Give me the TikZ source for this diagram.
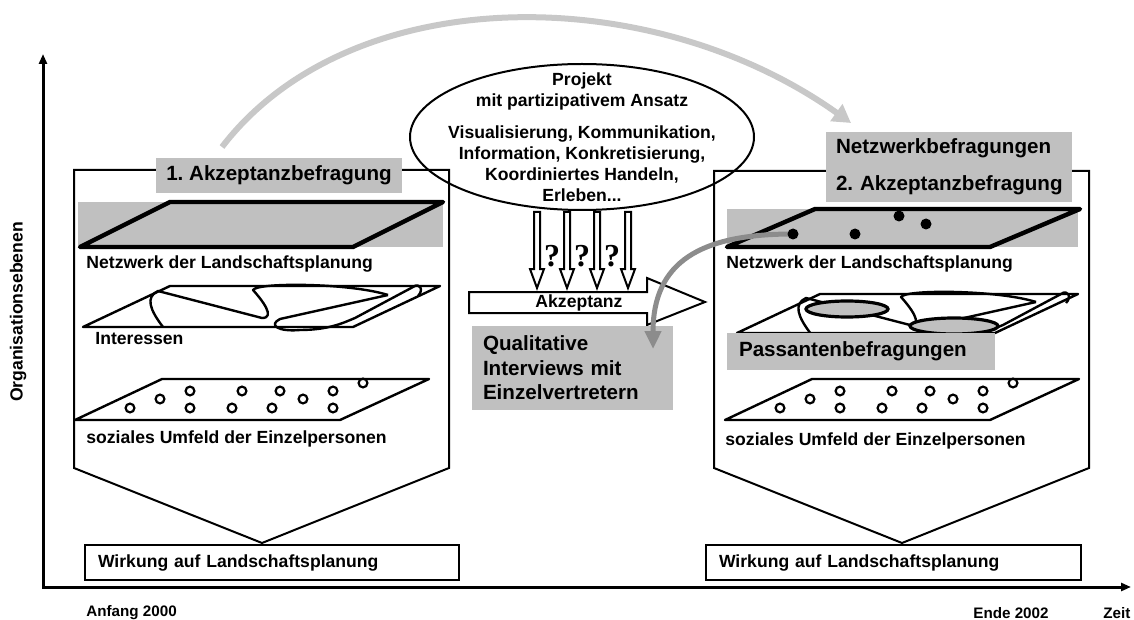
\documentclass[tikz,border=0pt]{standalone}
\usepackage{fontspec}
\setmainfont{Liberation Sans}
\newfontfamily\questionfont{Liberation Serif}
\usetikzlibrary{arrows.meta}
\frenchspacing

\definecolor{boxgray}{RGB}{192,192,192}
\definecolor{arcgray}{RGB}{200,200,200}
\definecolor{linkgray}{RGB}{140,140,140}

\begin{document}
\begin{tikzpicture}[ % one unit = one pixel of the sketch, y runs downwards
x=0.5pt, y=-0.5pt,
small_text/.style={font=\fontsize{8.8}{10.5}\selectfont\bfseries, inner sep=0pt},
big_text/.style={font=\fontsize{10.3}{12.2}\selectfont\bfseries},
axis_text/.style={font=\fontsize{7.6}{9}\selectfont\bfseries, inner sep=0pt},
question/.style={font=\fontsize{16}{16}\selectfont\questionfont\bfseries, inner sep=0pt},
panel/.style={draw=black, line width=1pt},
plane/.style={draw=black, line width=1.2pt, line join=round},
top_plane/.style={draw=black, line width=2.2pt, line join=round},
gray_band/.style={fill=boxgray, draw=none},
gray_box/.style={rectangle, fill=boxgray, draw=none, big_text, align=left},
effect_box/.style={rectangle, draw=black, line width=1pt, small_text, anchor=west, inner xsep=6.5pt, text width=174pt, minimum height=17.5pt, align=left},
person/.style={draw=black, line width=1.1pt},
net_dot/.style={circle, fill=black, inner sep=0pt, minimum size=5.5pt},
hot_spot/.style={draw=black, fill=boxgray, line width=1.6pt},
hollow_arrow/.style={draw=black, fill=white, line width=1pt, line join=miter},
axis_arrow/.style={{Triangle[length=5pt,width=4pt]}-{Triangle[length=5pt,width=4pt]}, line width=1.5pt},
survey_arc/.style={-{Triangle[length=9pt,width=10pt]}, draw=arcgray, line width=3pt},
link_arrow/.style={-{Triangle[length=9pt,width=8pt]}, draw=linkgray, line width=2.5pt}
]
\useasboundingbox (0,0) rectangle (1134,620);

% axes
\coordinate (y_top) at (43,54);
\coordinate (origin) at (43,587);
\coordinate (x_end) at (1131,587);
\draw[axis_arrow] (y_top) -- (origin) -- (x_end);
\node[small_text, rotate=90] (y_label) at (18,312) {Organisationsebenen};
\node[axis_text, anchor=west] (start_label) at (86,613) {Anfang 2000};
\node[axis_text, anchor=west] (end_label) at (973,613) {Ende 2002};
\node[axis_text, anchor=west] (time_label) at (1103,613) {Zeit};

% the two panels
\draw[panel] (74,170) -- (449,170) -- (449,468) -- (262,543) -- (74,468) -- cycle;
\draw[panel] (714,171) -- (1089,171) -- (1089,468) -- (902,543) -- (714,468) -- cycle;

% left panel: network layer
\fill[gray_band] (78,202) rectangle (443,247);
\draw[top_plane] (80,247) -- (170,202) -- (443,202) -- (353,247) -- cycle;
\node[small_text, anchor=west] (network_left) at (86,264) {Netzwerk der Landschaftsplanung};

% left panel: interests layer
\draw[plane] (83,327) -- (170,286) -- (440,286) -- (353,327) -- cycle;
\begin{scope}[plane]
\draw (163,327) .. controls (150,310) and (145,297) .. (158,291) -- (262,318) .. controls (276,318) and (262,300) .. (253,290) .. controls (258,282) and (350,283) .. (388,295);
\draw (388,295) -- (280,319) .. controls (268,325) and (278,332) .. (300,330) .. controls (330,330) and (345,322) .. (355,318) -- (413,287) .. controls (420,282) and (424,290) .. (418,296);
\end{scope}
\node[small_text, anchor=west] (interests_left) at (95,339) {Interessen};

% left panel: social layer
\draw[plane] (75,420) -- (162,379) -- (429,379) -- (340,420) -- cycle;
\foreach \px/\py in {130/408,160/399,190/391,190/408,242/391,232/408,280/391,272/408,303/399,333/391,333/408,363/383}
  \draw[person] (\px,\py) circle [radius=2.2pt];
\node[small_text, anchor=west] (social_left) at (86,439) {soziales Umfeld der Einzelpersonen};

% right panel: network layer
\fill[gray_band] (727,209) rectangle (1078,247);
\draw[top_plane] (727,247) -- (815,209) -- (1080,209) -- (990,247) -- cycle;
\node[small_text, anchor=west] (network_right) at (726,264) {Netzwerk der Landschaftsplanung};

% right panel: interests layer
\draw[plane] (737,333) -- (820,294) -- (1078,294) -- (995,333) -- cycle;
\begin{scope}[plane, shift={(648,7)}]
\draw (163,327) .. controls (150,310) and (145,297) .. (158,291) -- (262,318) .. controls (276,318) and (262,300) .. (253,290) .. controls (258,282) and (350,283) .. (388,295);
\draw (388,295) -- (280,319) .. controls (268,325) and (278,332) .. (300,330) .. controls (330,330) and (345,322) .. (355,318) -- (413,287) .. controls (420,282) and (424,290) .. (418,296);
\end{scope}
\draw[hot_spot] (847,309) ellipse [x radius=20.5pt, y radius=4pt];
\draw[hot_spot] (954,326) ellipse [x radius=22pt, y radius=4pt];

% right panel: social layer
\draw[plane] (725,420) -- (812,379) -- (1079,379) -- (990,420) -- cycle;
\foreach \px/\py in {130/408,160/399,190/391,190/408,242/391,232/408,280/391,272/408,303/399,333/391,333/408,363/383}
  \draw[person] (\px+650,\py) circle [radius=2.2pt];
\node[small_text, anchor=west] (social_right) at (725,441) {soziales Umfeld der Einzelpersonen};

% surveys
\node[gray_box, minimum width=123pt, minimum height=17.5pt] (first_survey) at (279,175.5) {1. Akzeptanzbefragung};
\node[gray_box, inner xsep=5pt, text width=113pt, minimum height=35pt] (network_survey) at (949,167) {Netzwerkbefragungen\\[6.3pt]\mbox{2. Akzeptanzbefragung}};
\node[gray_box, inner xsep=6pt, text width=122pt, minimum height=18.5pt] (passer_survey) at (861,351.5) {Passantenbefragungen};

% effects
\node[effect_box] (effect_left) at (84,562.5) {Wirkung auf Landschaftsplanung};
\node[effect_box, text width=174.5pt] (effect_right) at (705,562.5) {Wirkung auf Landschaftsplanung};

% project in the middle
\node[small_text, align=center] (project) at (582,137.5) {Projekt\\mit partizipativem Ansatz\\[5.5pt]Visualisierung, Kommunikation,\\Information, Konkretisierung,\\Koordiniertes Handeln,\\Erleben...};
\draw[line width=1pt] (582,137) ellipse [x radius=86pt, y radius=36.5pt];

\foreach \cx in {537,567,597,628}
  \draw[hollow_arrow] (\cx-3,212) -- (\cx-3,269) -- (\cx-7,269) -- (\cx,288) -- (\cx+7,269) -- (\cx+3,269) -- (\cx+3,212) -- cycle;
\foreach \qx [count=\i] in {552,582,612}
  \node[question] (question_\i) at (\qx,256) {?};

\draw[hollow_arrow] (469,292) -- (647,292) -- (647,278) -- (705,302) -- (647,325) -- (647,313) -- (469,313) -- cycle;
\node[small_text] (acceptance) at (579,303) {Akzeptanz};

\node[gray_box, inner xsep=5.5pt, text width=89.5pt, minimum height=42pt] (interviews) at (572.5,368) {Qualitative\\Interviews mit\\Einzelvertretern};

% links
\coordinate (link_end) at (653,349);
\draw[link_arrow] (793,234) .. controls (700,234) and (653,262) .. (link_end);
\node[net_dot] (dot_a) at (793,234) {};
\node[net_dot] (dot_b) at (855,234) {};
\node[net_dot] (dot_c) at (899,216) {};
\node[net_dot] (dot_d) at (926,224) {};

\coordinate (arc_start) at (222,147);
\coordinate (arc_end) at (851,123);
\draw[survey_arc] (arc_start) .. controls (350,-20) and (650,-20) .. (arc_end);

\end{tikzpicture}
\end{document}
